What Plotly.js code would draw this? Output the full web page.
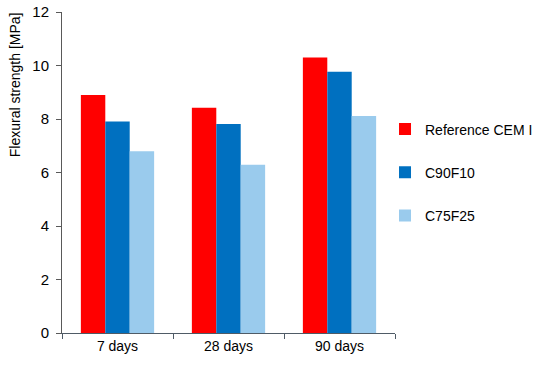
<!DOCTYPE html>
<html>
<head>
<meta charset="utf-8">
<script src="https://cdn.plot.ly/plotly-3.0.1.min.js"></script>
<style>html,body{margin:0;padding:0;background:#fff;}#chart{width:550px;height:369px;}</style>
</head>
<body>
<div id="chart"></div>
<script>
const categories = ["7 days", "28 days", "90 days"];
const seriesNames = ["Reference CEM I", "C90F10", "C75F25"];
const referenceCEM = [8.9, 8.42, 10.3];
const c90f10 = [7.91, 7.81, 9.77];
const c75f25 = [6.79, 6.29, 8.11];
const yTicks = [0, 2, 4, 6, 8, 10, 12];
const yTitle = "Flexural strength [MPa]";
const colors = ["#FF0000", "#0070C0", "#9ACBED"];

const values = [referenceCEM, c90f10, c75f25];
const traces = values.map((v, i) => ({
  type: "bar",
  x: categories,
  y: v,
  name: seriesNames[i],
  legendgroup: "g" + i,
  marker: {color: colors[i], line: {width: 0}}
}));

const font = "Liberation Sans, Arial, sans-serif";
const layout = {
  width: 550, height: 369,
  margin: {l: 62, r: 153, t: 12, b: 36},
  paper_bgcolor: "#ffffff", plot_bgcolor: "#ffffff",
  font: {family: font, size: 14, color: "#000000"},
  barmode: "group",
  bargap: 0.34,
  bargroupgap: 0,
  showlegend: true,
  legend: {
    x: 0.97, xanchor: "left", y: 0.5, yanchor: "middle",
    font: {family: font, size: 14, color: "#000"},
    tracegroupgap: 22,
    itemwidth: 30,
    borderwidth: 0,
    bgcolor: "rgba(0,0,0,0)"
  },
  xaxis: {
    type: "category",
    showline: true, linecolor: "#4F5B66", linewidth: 1,
    ticks: "outside", tickson: "boundaries", ticklen: 5, tickcolor: "#4F5B66",
    showgrid: false, zeroline: false,
    tickfont: {family: font, size: 14, color: "#000"}
  },
  yaxis: {
    range: [0, 12],
    tickvals: yTicks,
    ticktext: yTicks.map(String),
    showline: true, linecolor: "#595959", linewidth: 1,
    ticks: "outside", ticklen: 5, tickcolor: "#595959",
    showgrid: false, zeroline: false,
    tickfont: {family: font, size: 15, color: "#000"},
    ticklabelstandoff: 4
  },
  annotations: [{
    text: yTitle,
    xref: "paper", yref: "paper",
    x: -0.143, y: 0.773,
    xanchor: "center", yanchor: "middle",
    textangle: -90,
    showarrow: false,
    font: {family: font, size: 14, color: "#000"}
  }]
};

Plotly.newPlot("chart", traces, layout, {displayModeBar: false, staticPlot: true});
</script>
</body>
</html>
